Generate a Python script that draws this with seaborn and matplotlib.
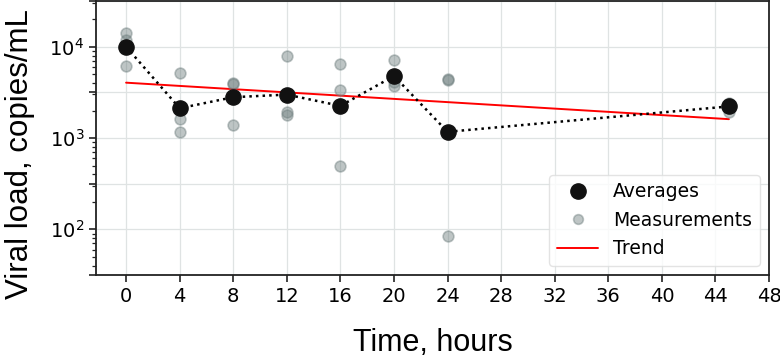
import numpy as np
import pandas as pd
import seaborn as sns
import matplotlib.pyplot as plt
from matplotlib.ticker import FixedLocator, LogLocator, NullFormatter, FuncFormatter
from matplotlib.lines import Line2D

# time points (hours)
time_points = [0, 4, 8, 12, 16, 20, 24, 45]

# individual measurements per time point, copies/mL
meas_t0 = [14200, 12000, 6200]
meas_t4 = [5100, 1600, 1150]
meas_t8 = [4000, 3900, 1380]
meas_t12 = [7900, 1950, 1800]
meas_t16 = [6400, 3400, 500]
meas_t20 = [7150, 4100, 3700]
meas_t24 = [4400, 4300, 85]
meas_t45 = [2450, 2200, 1950]

# averages shown on chart
averages = [10000, 2120, 2800, 2990, 2250, 4780, 1170, 2220]

# trend line end points
trend_t = [0, 45]
trend_v = [4040, 1610]

x_ticks = list(range(0, 49, 4))

all_meas = [meas_t0, meas_t4, meas_t8, meas_t12, meas_t16, meas_t20, meas_t24, meas_t45]
rows = []
for t, vals in zip(time_points, all_meas):
    for v in vals:
        rows.append({"Time": t, "Load": v})
meas_df = pd.DataFrame(rows)
avg_df = pd.DataFrame({"Time": time_points, "Load": averages})
trend_df = pd.DataFrame({"Time": trend_t, "Load": trend_v})

sns.set_style("whitegrid", {"grid.color": "#dfe3e3", "axes.edgecolor": "#222222",
                            "text.color": "black", "xtick.color": "black",
                            "ytick.color": "black", "axes.labelcolor": "black"})
plt.rcParams['font.family'] = ['DejaVu Sans']

fig = plt.figure(figsize=(7.8, 3.59), dpi=100)
ax = fig.add_axes([0.123, 0.234, 0.863, 0.763])

sns.lineplot(data=avg_df, x="Time", y="Load", ax=ax, color="black",
             linestyle=":", linewidth=1.8, zorder=3)
sns.scatterplot(data=meas_df, x="Time", y="Load", ax=ax, color="#6f7f7f",
                alpha=0.45, s=60, edgecolor="#6f7f7f", linewidth=1.2, zorder=4)
sns.scatterplot(data=avg_df, x="Time", y="Load", ax=ax, color="#111111",
                s=120, edgecolor="#111111", linewidth=1, zorder=5)
sns.lineplot(data=trend_df, x="Time", y="Load", ax=ax, color="red",
             linewidth=1.4, zorder=2)

ax.set_yscale("log")
ax.set_ylim(10 ** 1.5, 10 ** 4.5)
ax.set_xlim(-2.25, 48)
ax.set_xticks(x_ticks)

# grid at every half decade, labels on whole decades
ax.yaxis.set_major_locator(FixedLocator([10 ** (k / 2) for k in range(3, 10)]))
ax.yaxis.set_major_formatter(FuncFormatter(
    lambda v, p: "$10^{%d}$" % round(np.log10(v)) if abs(np.log10(v) - round(np.log10(v))) < 1e-6 else ""))
ax.yaxis.set_minor_locator(LogLocator(base=10, subs=np.arange(2, 10)))
ax.yaxis.set_minor_formatter(NullFormatter())

ax.grid(True, which="major", linewidth=0.9)
ax.tick_params(axis="both", which="major", labelsize=14, length=5, width=1.2,
               color="#222222", bottom=True, left=True)
ax.tick_params(axis="y", which="minor", length=3, width=0.9, color="#222222", left=True)
for sp in ax.spines.values():
    sp.set_linewidth(1.3)

ax.set_xlabel("Time, hours", fontsize=22, family=["Liberation Sans"], labelpad=16)
ax.set_ylabel("Viral load, copies/mL", fontsize=22.5, family=["Liberation Sans"])
ax.yaxis.set_label_coords(-0.09, 0.44)

handles = [
    Line2D([], [], marker="o", linestyle="", color="#111111", markersize=11),
    Line2D([], [], marker="o", linestyle="", color="#6f7f7f", alpha=0.45,
           markersize=7, markeredgewidth=1.2),
    Line2D([], [], color="red", linewidth=1.4),
]
ax.legend(handles, ["Averages", "Measurements", "Trend"], loc="lower right",
          fontsize=13.5, frameon=True, framealpha=0.8, edgecolor="#dddddd",
          handlelength=2.2)

fig.savefig("out.png", dpi=100)
